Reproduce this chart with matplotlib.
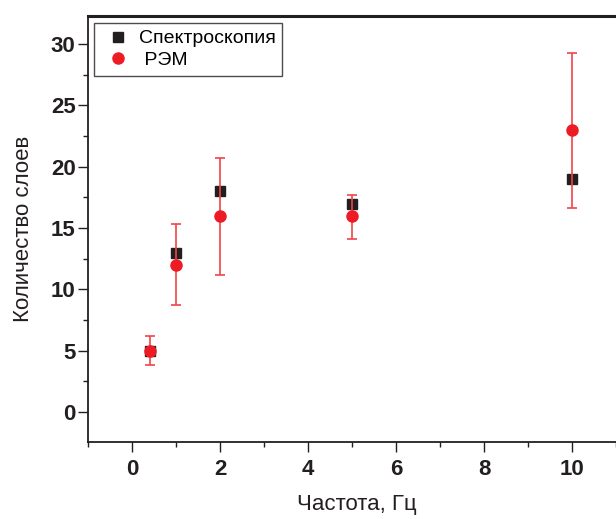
import matplotlib
matplotlib.use("Agg")
import matplotlib.pyplot as plt
from matplotlib.ticker import MultipleLocator

plt.rcParams['font.family'] = ['Liberation Sans', 'DejaVu Sans']

freq = [0.4, 1, 2, 5, 10]
spectro = [5, 13, 18, 17, 19]
sem = [5, 12, 16, 16, 23]
sem_err_low = [1.2, 3.3, 4.8, 1.9, 6.4]
sem_err_high = [1.2, 3.3, 4.7, 1.7, 6.3]
xticks = [0, 2, 4, 6, 8, 10]
yticks = [0, 5, 10, 15, 20, 25, 30]

fig = plt.figure(figsize=(6.16, 5.19), dpi=100)
ax = fig.add_axes([88/616, 77/519, 537/616, 426/519])

ax.plot(freq, spectro, linestyle='none', marker='s', markersize=6.5,
        color='#231f20', label='Спектроскопия', zorder=3)
ax.errorbar(freq, sem, yerr=[sem_err_low, sem_err_high], fmt='none',
            ecolor='#f0444a', elinewidth=1.2,
            capsize=3.3, capthick=1.2, zorder=4)
ax.plot(freq, sem, linestyle='none', marker='o', markersize=8,
        color='#ed1c24', label=' РЭМ', zorder=5)

ax.set_xlim(-1, 11.2)
ax.set_ylim(-2.45, 32.3)
ax.set_xticks(xticks)
ax.set_yticks(yticks)
ax.xaxis.set_minor_locator(MultipleLocator(1))
ax.yaxis.set_minor_locator(MultipleLocator(2.5))
ax.tick_params(which='major', direction='out', length=7, width=1.0,
               labelsize=16, colors='#231f20')
ax.tick_params(which='minor', direction='out', length=3.5, width=1.0,
               colors='#231f20')
for lab in ax.get_xticklabels() + ax.get_yticklabels():
    lab.set_fontweight('bold')
ax.tick_params(axis='x', pad=5)
ax.tick_params(axis='y', pad=2)
for s in ax.spines.values():
    s.set_linewidth(1.3)
    s.set_color('#231f20')
ax.spines['top'].set_linewidth(2.2)

ax.set_xlabel('Частота, Гц', fontsize=16, color='#231f20', labelpad=10)
ax.set_ylabel('Количество слоев', fontsize=16, color='#231f20', labelpad=12)

h, l = ax.get_legend_handles_labels()
leg = ax.legend(h, l, loc='upper left', bbox_to_anchor=(6/537, 1 - 7/426),
                fontsize=14, frameon=True, fancybox=False, borderpad=0.35,
                handletextpad=0.15, labelspacing=0.2, handlelength=1.8,
                borderaxespad=0)
leg.get_frame().set_edgecolor('#231f20')
leg.get_frame().set_linewidth(1.0)

fig.savefig('out.png', dpi=100)
